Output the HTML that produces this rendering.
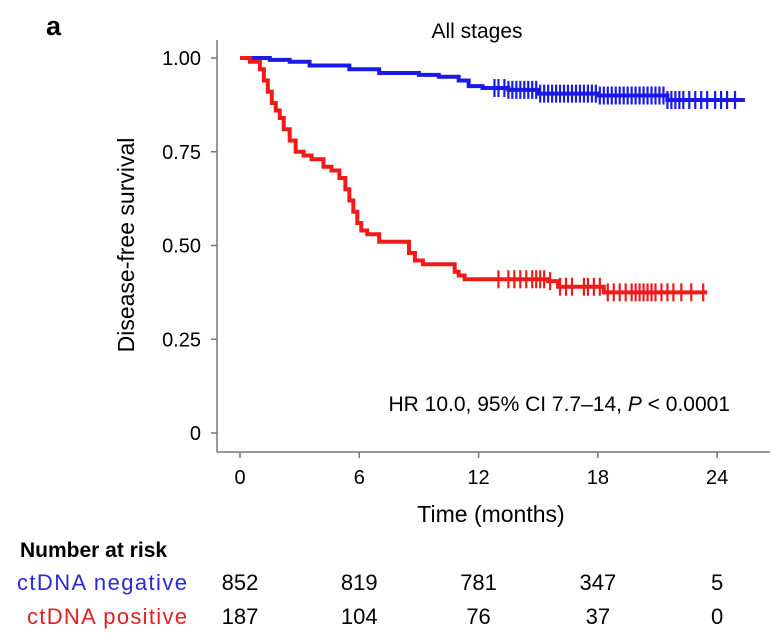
<!DOCTYPE html>
<html><head><meta charset="utf-8"><style>
body{margin:0;background:#fff;width:775px;height:633px;overflow:hidden;font-family:"Liberation Sans",sans-serif}
svg{display:block}
</style></head><body>
<svg width="775" height="633">
<text x="46" y="35" font-size="27" font-weight="bold">a</text>
<text x="477" y="38" font-size="21" text-anchor="middle">All stages</text>
<g id="axes"></g>
<g id="curves"></g>
<text transform="translate(134,245) rotate(-90)" font-size="23" text-anchor="middle">Disease-free survival</text>
<text x="491" y="522" font-size="23" text-anchor="middle">Time (months)</text>
<text x="730" y="411" font-size="21" text-anchor="end">HR 10.0, 95% CI 7.7–14, <tspan font-style="italic">P</tspan> &lt; 0.0001</text>
<text x="20" y="557" font-size="21" font-weight="bold">Number at risk</text>
<text x="17" y="590" font-size="22" fill="#2a2ad0" textLength="170">ctDNA negative</text>
<text x="27" y="624" font-size="22" fill="#e02020" textLength="160">ctDNA positive</text>
<g id="risk"></g>
</svg>
<script>
const xTicks=[0,6,12,18,24];
const yTicks=[0,0.25,0.5,0.75,1];
const yTickLabels=["0","0.25","0.50","0.75","1.00"];
const negTimes=[0,1.5,2.5,3.5,5.5,7,9,10,11,11.5,12.2,13.5,15,18,21.5,25.4];
const negSurv=[1,0.995,0.99,0.98,0.97,0.96,0.955,0.95,0.94,0.925,0.92,0.915,0.905,0.9,0.888,0.888];
const posTimes=[0,0.5,1.0,1.2,1.4,1.6,1.8,2.0,2.2,2.5,2.8,3.2,3.6,4.2,4.6,5.0,5.3,5.5,5.7,5.9,6.1,6.4,7.0,8.5,8.8,9.2,10.8,11.0,11.3,15.5,16.0,18.3,23.5];
const posSurv=[1,0.99,0.97,0.94,0.91,0.88,0.86,0.84,0.81,0.78,0.75,0.74,0.73,0.71,0.70,0.68,0.65,0.62,0.59,0.56,0.54,0.53,0.51,0.48,0.46,0.45,0.43,0.42,0.41,0.405,0.39,0.375,0.375];
const negCensor=[12.8,13.0,13.3,13.5,13.7,13.9,14.1,14.3,14.5,14.7,14.9,15.1,15.3,15.5,15.7,15.9,16.1,16.3,16.5,16.7,16.9,17.1,17.3,17.5,17.7,17.9,18.1,18.3,18.5,18.7,18.9,19.1,19.3,19.5,19.7,19.9,20.1,20.3,20.5,20.7,20.9,21.1,21.3,21.5,21.7,21.9,22.1,22.3,22.6,22.9,23.2,23.5,23.9,24.2,24.5,24.9];
const posCensor=[13.0,13.5,13.8,14.1,14.4,14.7,14.9,15.1,15.3,15.6,16.1,16.4,16.7,17.3,17.5,17.8,18.1,18.5,18.8,19.1,19.4,19.7,19.9,20.1,20.3,20.5,20.7,20.9,21.2,21.5,21.8,22.2,22.7,23.3];
const riskNeg=[852,819,781,347,5];
const riskPos=[187,104,76,37,0];
const X=t=>240+t*19.88, Y=s=>433-s*375;
const NS="http://www.w3.org/2000/svg";
function mk(tag,attrs,parent,txt){const e=document.createElementNS(NS,tag);for(const k in attrs)e.setAttribute(k,attrs[k]);if(txt!==undefined)e.textContent=txt;parent.appendChild(e);return e;}
const ax=document.getElementById('axes');
let a=mk('line',{x1:217,y1:40,x2:217,y2:452,stroke:'#777','stroke-width':1.5},ax);


a=mk('line',{x1:217,y1:452,x2:770,y2:452,stroke:'#777','stroke-width':1.5},ax);


yTicks.forEach((v,i)=>{
  const t=mk('line',{x1:211,x2:217,y1:Y(v),y2:Y(v),stroke:'#777','stroke-width':1.5},ax);
  
  
  const l=mk('text',{x:201,y:Y(v)+7,'font-size':20,'text-anchor':'end'},ax,yTickLabels[i]);
  
  
});
xTicks.forEach(v=>{
  const t=mk('line',{x1:X(v),x2:X(v),y1:452,y2:458,stroke:'#777','stroke-width':1.5},ax);
  
  
  const l=mk('text',{x:X(v),y:484,'font-size':20,'text-anchor':'middle'},ax,String(v));
  
  
});
const cv=document.getElementById('curves');
function stepPath(ts,ss){let d='M'+X(ts[0])+','+Y(ss[0]);for(let i=1;i<ts.length;i++){d+=' H'+X(ts[i])+' V'+Y(ss[i]);}return d;}
function survAt(ts,ss,t){let s=ss[0];for(let i=0;i<ts.length;i++){if(ts[i]<=t)s=ss[i];}return s;}
function drawCurve(ts,ss,cens,color,name){
  const p=mk('path',{d:stepPath(ts,ss),fill:'none',stroke:color,'stroke-width':4},cv);
  
  
  cens.forEach(t=>{
    const y=Y(survAt(ts,ss,t));
    const c=mk('line',{x1:X(t),x2:X(t),y1:y-9,y2:y+9,stroke:color,'stroke-width':2.2},cv);
    
    
  });
}
drawCurve(negTimes,negSurv,negCensor,'#1a1ae6','ctdna-negative');
drawCurve(posTimes,posSurv,posCensor,'#f01a1a','ctdna-positive');
const rk=document.getElementById('risk');
xTicks.forEach((v,i)=>{
  const a1=mk('text',{x:X(v),y:590,'font-size':22,'text-anchor':'middle'},rk,String(riskNeg[i]));
  
  
  const a2=mk('text',{x:X(v),y:624,'font-size':22,'text-anchor':'middle'},rk,String(riskPos[i]));
  
  
});
</script>
</body></html>
